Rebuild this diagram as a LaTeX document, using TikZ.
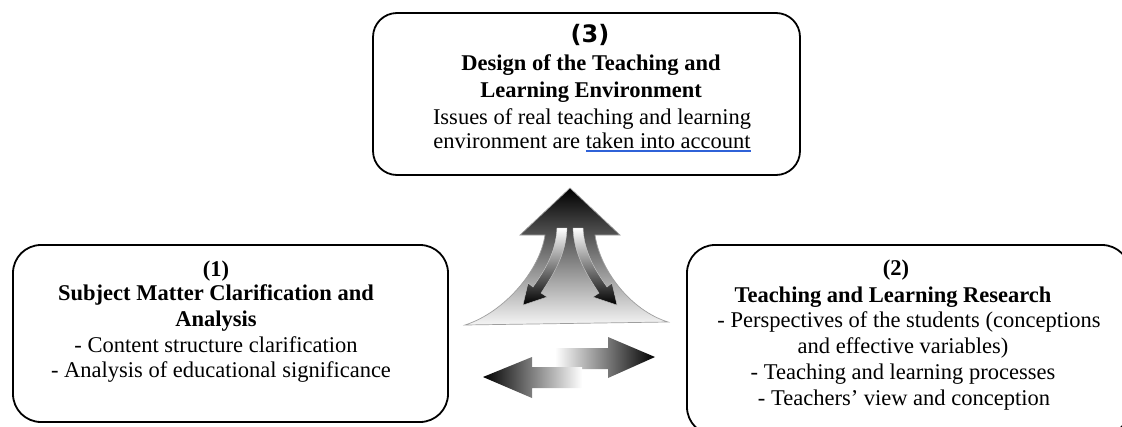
\documentclass[tikz,border=0pt]{standalone}
\usepackage{fontspec}
\setmainfont{Liberation Serif}
\newfontfamily\numfont{DejaVu Sans}
\definecolor{ulblue}{HTML}{2F62D8}
% blue underline for a short run of text
\newcommand\blueul[1]{\setbox0\hbox{#1}\rlap{\color{ulblue}\rule[-3.8pt]{\wd0}{1.9pt}}\box0}
\begin{document}
\begin{tikzpicture}[x=1pt,y=-1pt,
  box/.style={draw, line width=1.8pt, rounded corners=28pt, inner sep=0pt},
  txt/.style={anchor=base, inner sep=0pt, font=\fontsize{22.5}{26}\selectfont},
  ttl/.style={anchor=base, inner sep=0pt, font=\fontsize{22.5}{26}\selectfont\bfseries},
  num/.style={anchor=base, inner sep=0pt, font=\numfont\bfseries\fontsize{24}{28}\selectfont},
  flare/.style={top color=black, middle color=black!62, bottom color=white!96!black, draw=gray!75, line width=0.7pt},
  bend arrow/.style={top color=white, bottom color=black, draw=gray!40, line width=0.4pt}]
\useasboundingbox (0,0) rectangle (1122,426);

% ---- the three boxes
\node[box, rounded corners=24pt, minimum width=427pt, minimum height=162pt] (envbox) at (586.5,94) {};
\node[box, minimum width=435pt, minimum height=177pt] (smbox) at (230.5,333.5) {};
\node[box, minimum width=443pt, minimum height=190pt] (tlbox) at (908.5,340) {};

% ---- (3) design of the environment
\node[num] (n3) at (590,42) {(3)};
\node[ttl] (t3a) at (591,70) {Design of the Teaching and};
\node[ttl] (t3b) at (591,97) {Learning Environment};
\node[txt] (t3c) at (592,124) {Issues of real teaching and learning};
\node[txt] (t3d) at (592,148) {environment are \blueul{taken into account}};

% ---- (1) subject matter
\node[ttl] (n1) at (216,276) {(1)};
\node[ttl] (t1a) at (216,300) {Subject Matter Clarification and};
\node[ttl] (t1b) at (216,326) {Analysis};
\node[txt] (t1c) at (216,352) {- Content structure clarification};
\node[txt] (t1d) at (221,377) {- Analysis of educational significance};

% ---- (2) teaching and learning research
\node[ttl] (n2) at (896,275) {(2)};
\node[ttl] (t2a) at (893,302) {Teaching and Learning Research};
\node[txt] (t2b) at (909,327) {- Perspectives of the students (conceptions};
\node[txt] (t2c) at (903,353) {and effective variables)};
\node[txt] (t2d) at (903,379) {- Teaching and learning processes};
\node[txt] (t2e) at (904,405) {- Teachers’ view and conception};

% ---- flared upward arrow
\shade[flare] (570,188) -- (620,235) -- (595,235)
  .. controls (600,270) and (630,310) .. (668,322)
  -- (465,325)
  .. controls (505,312) and (540,270) .. (545,235)
  -- (520,235) -- cycle;

% ---- two bent arrows inside it
\shade[bend arrow] (557,228) -- (567,228)
  .. controls (566,255) and (553,275) .. (541,293)
  -- (547,297) -- (523,305) -- (528,283) -- (533,287)
  .. controls (545,270) and (556,252) .. (557,228) -- cycle;
\shade[bend arrow] (583,228) -- (573,228)
  .. controls (574,255) and (587,275) .. (599,293)
  -- (593,297) -- (617,305) -- (612,283) -- (607,287)
  .. controls (595,270) and (584,252) .. (583,228) -- cycle;

% ---- horizontal exchange arrows
\shade[left color=white, right color=black]
  (555,348) -- (608,348) -- (608,337) -- (655,357) -- (608,378) -- (608,369) -- (555,369) -- cycle;
\shade[left color=black, right color=white]
  (582,367) -- (532,367) -- (532,357) -- (483,377) -- (532,398) -- (532,388) -- (582,388) -- cycle;
\end{tikzpicture}
\end{document}
